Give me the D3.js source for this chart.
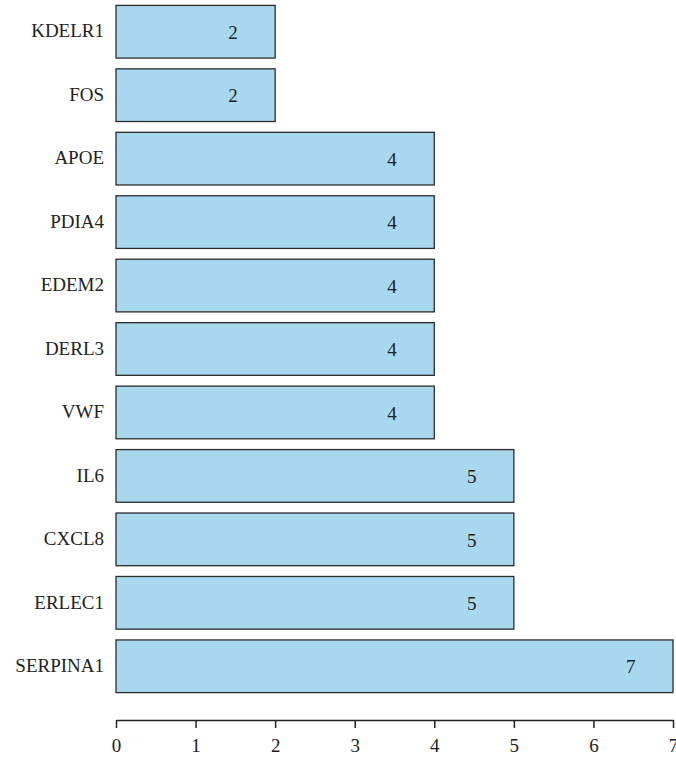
<!DOCTYPE html>
<html>
<head>
<meta charset="utf-8">
<script src="https://cdn.jsdelivr.net/npm/d3@7"></script>
<style>
  body { margin: 0; background: #fff; }
  text { font-family: "Liberation Serif", "DejaVu Serif", serif; fill: #222; }
</style>
</head>
<body>
<div class="barchart"></div>
<script>
(function() {
  'use strict';

  var genes = ["KDELR1", "FOS", "APOE", "PDIA4", "EDEM2", "DERL3", "VWF", "IL6", "CXCL8", "ERLEC1", "SERPINA1"];
  var counts = [2, 2, 4, 4, 4, 4, 4, 5, 5, 5, 7];
  var xTicks = [0, 1, 2, 3, 4, 5, 6, 7];

  var width = 676;
  var height = 759;

  var svg = d3.select(".barchart").append("svg")
    .attr("width", width)
    .attr("height", height);

  var x = d3.scaleLinear()
    .domain([0, 7])
    .range([116, 673]);

  var y = d3.scaleBand()
    .domain(genes)
    .range([0, 698])
    .paddingInner(0.17)
    .paddingOuter(0.085);

  var data = genes.map(function(g, i) {
    return { gene: g, count: counts[i] };
  });

  var bar = svg.selectAll(".bar")
    .data(data)
    .enter().append("g")
    .attr("class", "bar");

  bar.append("rect")
    .attr("x", x(0))
    .attr("y", function(d) { return y(d.gene); })
    .attr("width", function(d) { return x(d.count) - x(0); })
    .attr("height", y.bandwidth())
    .attr("fill", "#a8d8ed")
    .attr("stroke", "#2b2b2b")
    .attr("stroke-width", 1.3);

  // value labels near bar end
  bar.append("text")
    .attr("x", function(d) { return x(d.count - 0.53); })
    .attr("y", function(d) { return y(d.gene) + y.bandwidth() / 2; })
    .attr("dy", "0.38em")
    .attr("text-anchor", "middle")
    .style("font-size", "19px")
    .text(function(d) { return d.count; });

  // gene names
  bar.append("text")
    .attr("x", 104)
    .attr("y", function(d) { return y(d.gene) + y.bandwidth() / 2; })
    .attr("dy", "0.3em")
    .attr("text-anchor", "end")
    .style("font-size", "19px")
    .text(function(d) { return d.gene; });

  var xAxis = svg.append("g")
    .attr("transform", "translate(0,720)")
    .call(d3.axisBottom(x).tickValues(xTicks).tickFormat(d3.format("d")).tickSize(8).tickSizeOuter(0));

  xAxis.select(".domain").attr("stroke", "#222").attr("stroke-width", 1.5);
  xAxis.selectAll(".tick line").attr("stroke", "#222").attr("stroke-width", 1.5);
  xAxis.selectAll(".tick text")
    .attr("y", 19)
    .style("font-size", "19px")
    .style("font-family", "'Liberation Serif', serif")
    .attr("fill", "#222");
})();
</script>
</body>
</html>
